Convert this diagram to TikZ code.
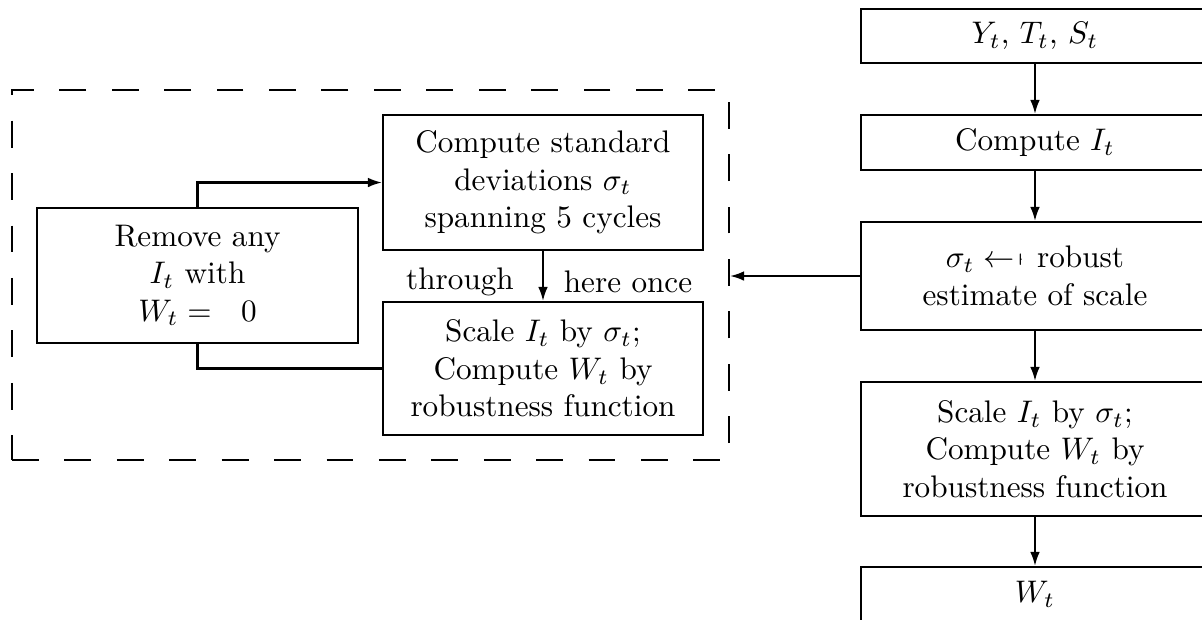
\documentclass[tikz,border=0pt]{standalone}
\usetikzlibrary{arrows.meta}

% one unit of the picture = 0.3205pt
\newcommand{\pu}{0.3205pt}

\tikzset{
  x=0.3205pt, y=-0.3205pt,
  box/.style={draw, line width=0.65pt, inner sep=0pt, align=center, font=\normalsize},
  rcol/.style={box, minimum width=348*\pu},
  lcol/.style={box, minimum width=320*\pu},
  flow/.style={line width=0.65pt, -{Latex[length=4.5pt, width=3.1pt]}},
  link/.style={line width=0.65pt},
  frame/.style={draw, line width=0.65pt, dash pattern=on 8.6pt off 8.2pt, inner sep=0pt},
  lbl/.style={inner sep=0pt, font=\normalsize},
}

\begin{document}
\begin{tikzpicture}
  \useasboundingbox (0,0) rectangle (1202,619);

  % main pipeline on the right
  \node[rcol, minimum height=54*\pu]  (yts)   at (1035,36)    {$Y_t$, $T_t$, $S_t$};
  \node[rcol, minimum height=55*\pu]  (comp)  at (1035,142.5) {Compute $I_t$};
  \node[rcol, minimum height=108*\pu] (sig)   at (1035,276)
    {$\sigma_t \leftarrow\mkern2mu\mapstochar\mkern5mu$ robust\\estimate of scale};
  \node[rcol, minimum height=134*\pu] (scale) at (1035,449)   {Scale $I_t$ by $\sigma_t$;\\Compute $W_t$ by\\robustness function};
  \node[rcol, minimum height=54*\pu]  (wt)    at (1035,594)   {$W_t$};

  % iterative refinement loop
  \node[frame, minimum width=717*\pu, minimum height=370*\pu] (loop) at (370.5,275) {};
  \node[box, minimum width=321*\pu, minimum height=135*\pu] (remove) at (197.5,275.5)
    {Remove any\\$I_t$ with\\$W_t = \mkern12mu 0$};
  \node[lcol, minimum height=135*\pu] (std) at (543,182.5)
    {Compute standard\\deviations $\sigma_t$\\spanning 5 cycles};
  \node[lcol, minimum height=133*\pu] (scl) at (543,368.5)
    {Scale $I_t$ by $\sigma_t$;\\Compute $W_t$ by\\robustness function};

  % connectors
  \draw[flow] (yts) -- (comp);
  \draw[flow] (comp) -- (sig);
  \draw[flow] (sig) -- (scale);
  \draw[flow] (scale) -- (wt);
  \draw[flow] (sig.west) -- (sig.west -| loop.east);

  \draw[flow] (remove.north) |- (std.west);
  \draw[link] (scl.west) -| (remove.south);
  \draw[flow] (std) -- (scl);

  \node[lbl] (thr)  at (460,282) {through};
  \node[lbl] (once) at (628,282) {here once};
\end{tikzpicture}
\end{document}
